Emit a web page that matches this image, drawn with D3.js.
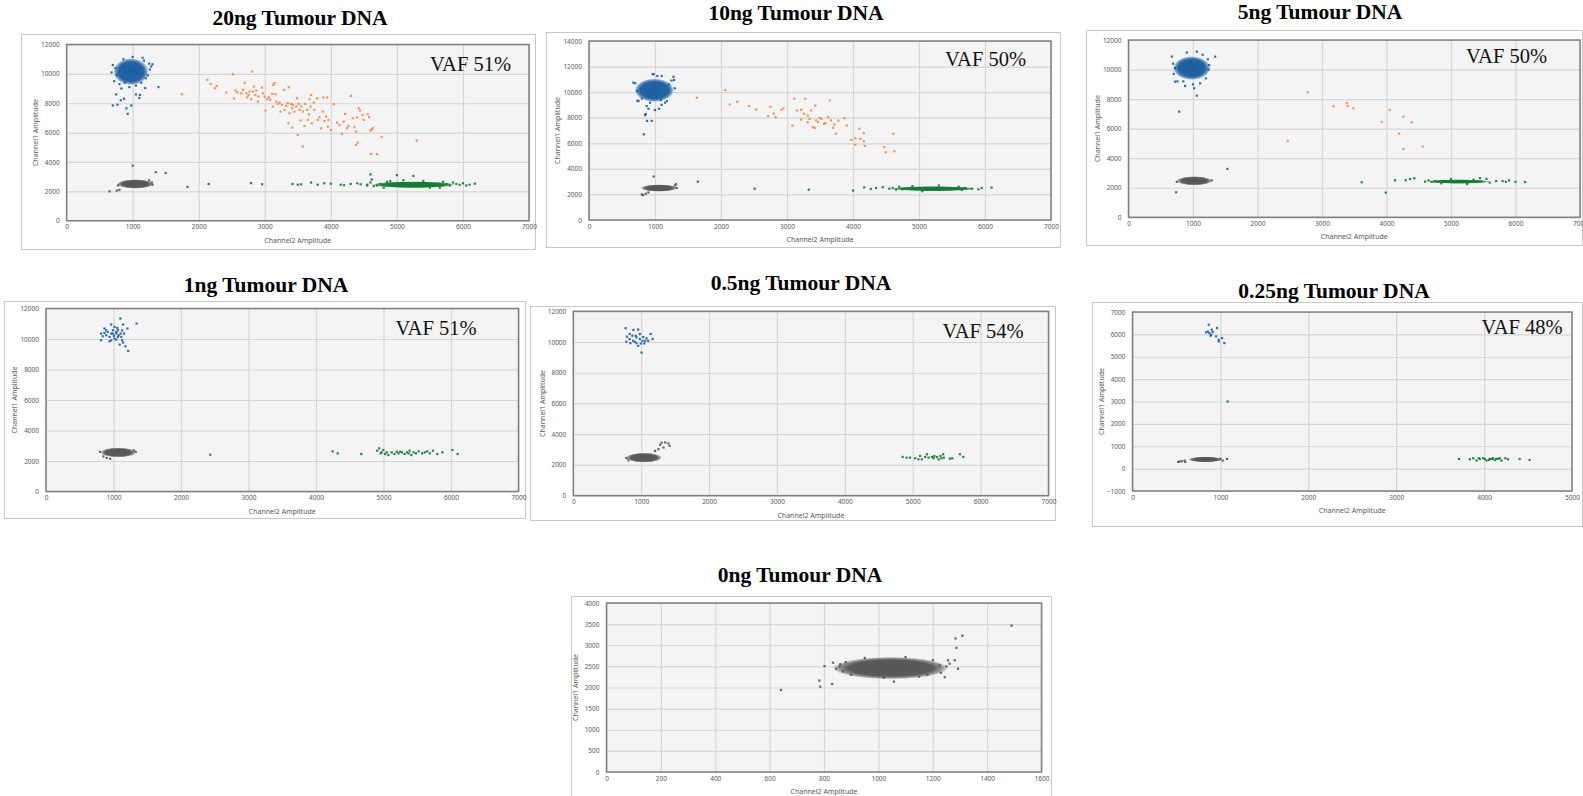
<!DOCTYPE html>
<html>
<head>
<meta charset="utf-8">
<script src="https://cdn.jsdelivr.net/npm/d3@7"></script>
<style>
  html, body { margin: 0; padding: 0; background: #fff; }
  svg { display: block; }
  .tick text { font-family: "Noto Sans", sans-serif; font-size: 6.5px; fill: #595959; }
</style>
</head>
<body>
<svg width="1583" height="796"></svg>
<script>
// ---- labels ----
const titles = ["20ng Tumour DNA", "10ng Tumour DNA", "5ng Tumour DNA", "1ng Tumour DNA",
  "0.5ng Tumour DNA", "0.25ng Tumour DNA", "0ng Tumour DNA"];
const vafLabels = ["VAF 51%", "VAF 50%", "VAF 50%", "VAF 51%", "VAF 54%", "VAF 48%", ""];
const xMax = [7000, 7000, 7000, 7000, 7000, 5000, 1600];
const xStep = [1000, 1000, 1000, 1000, 1000, 1000, 200];
const yMin = [0, 0, 0, 0, 0, -1000, 0];
const yMax = [12000, 14000, 12000, 12000, 12000, 7000, 4000];
const yStep = [2000, 2000, 2000, 2000, 2000, 1000, 500];

// ---- droplet data (Channel2, Channel1) ----
// dense cluster cores: [cluster, centre ch2, centre ch1, half-width ch2, half-height ch1]
const cores20 = [["gray", 1040, 2500, 240, 280], ["green", 5250, 2450, 550, 200], ["blue", 975, 10150, 230, 800]];
const blue20 = [[700,7850],[750,8600],[770,7900],[820,8200],[870,8300],[905,7650],[925,7280],[980,7840],[1050,8600],
  [1110,8570],[1190,9030],[1390,9100],[1100,8360],[720,9500],[1250,10700],[1280,10500],[1150,11100],[860,11000],
  [740,10400],[680,10100],[1200,9700],[1230,9900],[800,9300],[1050,9200],[880,9400],[1000,11150],[760,9900],
  [1260,10300],[1170,10900],[700,10600],[830,9000],[950,9100],[1130,9400],[1300,10650]];
const orange20 = [[1748,8614],[2131,9591],[2181,9318],[2242,9023],[2272,9182],[2418,8727],[2519,9977],[2534,8319],
  [2559,8864],[2584,8727],[2644,8682],[2670,8909],[2695,9386],[2720,8682],[2735,8409],[2755,8568],[2770,8796],
  [2795,8273],[2811,10159],[2821,8796],[2836,9136],[2856,8568],[2871,8864],[2897,8114],[2906,8455],[2957,9068],
  [2972,8682],[2997,8455],[3012,7501],[3037,8273],[3062,8409],[3083,8228],[3113,8636],[3128,9250],[3148,9363],
  [3163,8614],[3123,7773],[3173,8114],[3198,7955],[3224,8046],[3239,7432],[3259,7887],[3289,8909],[3299,7546],
  [3324,7819],[3349,8000],[3364,9091],[3374,7319],[3400,7955],[3415,7660],[3425,7887],[3450,7432],[3359,6637],
  [3415,6342],[3475,7773],[3490,8341],[3510,7955],[3526,7546],[3541,6819],[3551,7773],[3576,7432],[3500,5842],
  [3576,5047],[3601,6455],[3611,7955],[3641,7546],[3651,6864],[3667,7251],[3677,8273],[3692,7773],[3702,8568],
  [3712,6637],[3742,8046],[3752,7546],[3792,8341],[3803,6864],[3828,7046],[3853,6296],[3878,7432],[3888,8387],
  [3903,6796],[3928,7091],[3943,8387],[3954,6410],[3964,6864],[4004,6183],[4044,7932],[4095,6683],[4130,6523],
  [4170,5910],[4195,6751],[4216,7273],[4246,6296],[4266,6455],[4306,8500],[4331,6978],[4356,6365],[4382,6069],
  [4397,7046],[4382,5161],[4407,5320],[4422,7660],[4442,7501],[4482,7205],[4497,6864],[4558,7251],[4598,6137],
  [4608,4547],[4633,6296],[4770,5700],[4700,4530],[5300,5450],[4620,6200],[4580,7050]];
const gray20 = [[1000,3750],[1350,3300],[1500,3250],[1830,2300],[650,2000],[760,2050],[800,2100],[1290,2600],
  [1300,2450],[780,2400],[1250,2750]];
const green20 = [[2150,2500],[2790,2560],[2960,2480],[3420,2500],[3500,2450],[3550,2480],[3700,2600],[3800,2450],
  [3900,2550],[4000,2520],[4150,2450],[4200,2420],[4300,2500],[4400,2550],[4450,2480],[4550,2450],[4600,2600],
  [4600,3150],[4620,2800],[4700,2400],[4750,2500],[4850,2650],[5000,3100],[5250,3050],[5900,2500],[5950,2450],
  [6000,2550],[6050,2400],[6180,2520],[5800,2400],[5850,2600],[4650,2350],[4550,2400],[5700,2650],[5650,2250],
  [4800,2250],[4900,2700],[5100,2750],[5400,2700],[5500,2250],[5750,2500],[6100,2450]];

const cores10 = [["gray", 1060, 2500, 240, 250], ["green", 5220, 2450, 560, 170], ["blue", 990, 10150, 260, 800]];
const blue10 = [[830,6700],[880,7750],[950,7750],[850,8200],[900,8700],[1000,8600],[1060,8700],[700,10700],[750,9300],
  [1300,10300],[1280,11200],[1250,10900],[980,11400],[1100,9000],[800,9500],[1180,9300],[730,10100],[1210,10600],
  [671,10737],[965,11415],[1035,11259],[1101,11259],[1288,10946],[733,9330],[874,8913],[925,9174],[1091,9382],
  [1152,9174],[859,8288]];
const orange10 = [[1635,9560],[2066,10161],[2133,9038],[2246,9247],[2426,8907],[2534,8646],[2714,8123],[2750,8855],
  [2801,8332],[2827,8045],[2914,8620],[2945,8724],[3084,7392],[3110,9482],[3151,8567],[3215,8620],[3215,7862],
  [3256,8306],[3276,9482],[3315,8176],[3315,7653],[3341,7914],[3367,8567],[3392,7261],[3418,7209],[3429,8959],
  [3444,7784],[3470,7653],[3495,7993],[3521,7914],[3562,7522],[3582,7575],[3624,8045],[3649,9351],[3665,7784],
  [3701,7209],[3716,7470],[3742,6739],[3778,7784],[3870,7967],[3906,7392],[3973,6269],[4035,5877],[4035,6400],
  [4097,7131],[4112,6347],[4164,6791],[4164,6164],[4179,5799],[4472,5694],[4497,5302],[4611,6739],[4626,5381]];
const gray10 = [[1650,3000],[980,3400],[820,1950],[860,2050],[900,2150],[1300,2700],[1320,2800],[800,2000],[1330,2500]];
const green10 = [[2510,2450],[3330,2370],[4000,2300],[4170,2550],[4270,2430],[4350,2500],[4450,2560],[4550,2450],
  [4600,2500],[4650,2380],[4700,2600],[5700,2500],[5800,2450],[5900,2400],[5950,2500],[6100,2530],[4750,2400],
  [5650,2350],[5600,2600],[5300,2700],[4900,2650],[5050,2250]];

const cores5 = [["gray", 1020, 2470, 240, 270], ["green", 5120, 2420, 420, 130], ["blue", 980, 10100, 250, 700]];
const blue5 = [[785,7151],[1059,8234],[1018,8731],[878,8889],[672,10874],[1343,10874],[904,11145],[1059,11212],
  [723,9182],[1111,9069],[700,9700],[1250,10300],[1200,9400],[850,9200],[1230,10700],[690,10400],[760,9200],
  [1000,9000],[1240,10000],[720,10100],[1150,11000]];
const orange5 = [[2779,8460],[2469,5166],[3177,7512],[3384,7738],[3399,7535],[3487,7377],[3926,6452],[4050,7264],
  [4262,6813],[4391,6430],[4195,5663],[4262,4625],[4562,4783]];
const gray5 = [[1534,3271],[739,1692],[750,2400],[1290,2500]];
const green5 = [[3616,2369],[3988,1669],[4133,2504],[4298,2504],[4365,2594],[4432,2639],[4598,2414],[5800,2450],
  [5850,2400],[5900,2500],[6000,2400],[6150,2380],[4650,2500],[4700,2400],[4750,2450],[5600,2350],[5700,2450],
  [5550,2600],[5450,2650],[4850,2300],[5000,2600],[5250,2250],[5350,2550]];

const cores1 = [["gray", 1070, 2560, 230, 280]];
const blue1 = [[1102,11343],[1342,11014],[1142,10948],[866,10685],[966,10948],[1016,10794],[1066,10575],[916,10465],
  [891,10246],[841,10180],[941,10136],[991,10356],[1041,10356],[1076,10246],[1107,10356],[1016,10026],[966,9917],
  [1041,9961],[1116,10136],[1127,9917],[1092,9632],[1142,9763],[1177,9522],[1217,9215],[1207,10685],[816,10356],
  [891,10575],[991,10575],[1056,10729],[1066,10136],[941,9851],[1006,10202],[816,9917],[866,10399],[1157,10356],
  [1041,10465],[966,10356],[1127,10553]];
const gray1 = [[2433,2413],[800,2600],[850,2300],[900,2200],[950,2150],[1300,2700],[1330,2600]];
const green1 = [[4246,2633],[4321,2501],[4671,2457],[4907,2677],[4937,2830],[4957,2501],[4997,2721],[5022,2457],
  [5072,2391],[5122,2567],[5162,2457],[5197,2611],[5222,2501],[5272,2567],[5312,2457],[5347,2567],[5387,2677],
  [5412,2391],[5447,2567],[5482,2501],[5522,2633],[5572,2501],[5647,2633],[5732,2677],[5797,2457],[5872,2567],
  [6022,2721],[6098,2457],[4972,2567],[5047,2567],[5247,2611],[5372,2501],[5612,2567],[5687,2501]];

const cores05 = [["gray", 1040, 2470, 230, 280]];
const blue05 = [[771,10898],[886,10787],[955,10809],[831,10523],[871,10412],[781,10015],[841,9927],[906,10015],
  [930,10302],[980,10192],[995,9905],[955,9751],[1020,10081],[1030,10324],[1060,10081],[1080,10236],[1005,9309],
  [1104,10081],[1139,10523],[1169,10192],[831,10192],[881,10081],[930,9927],[1045,9905],[920,10412],[791,10346],
  [980,10523]];
const gray05 = [[1353,3464],[1279,3309],[1418,3243],[1254,3022],[1328,3133],[1204,2912],[1300,3450],[1400,3400],
  [780,2450],[810,2300]];
const green05 = [[4851,2515],[4910,2471],[4960,2471],[5035,2427],[5084,2361],[5109,2581],[5184,2515],[5209,2691],
  [5234,2471],[5284,2515],[5308,2427],[5358,2515],[5383,2361],[5408,2581],[5423,2427],[5448,2691],[5458,2471],
  [5547,2405],[5582,2427],[5696,2691],[5746,2515],[5134,2361],[5318,2581]];

const cores025 = [["gray", 830, 410, 170, 110]];
const blue025 = [[868,6433],[875,6060],[857,6134],[894,5985],[913,6104],[902,6209],[962,6283],[951,5910],
  [981,5686],[1019,5836],[981,5761],[1045,5612],[1083,3000],[838,6090],[887,5940]];
const gray025 = [[536,313],[592,358],[1076,433],[1026,358],[560,330],[520,300],[600,300],[1000,440]];
const green025 = [[3714,433],[3838,418],[3876,463],[3914,358],[3951,433],[3989,463],[4027,358],[4065,433],
  [4102,463],[4121,388],[4159,433],[4197,358],[4242,463],[4272,418],[4404,433],[4518,388],[3940,463],
  [4053,388],[4178,463],[4008,433],[4084,433],[4140,433]];

const cores0 = [["gray", 1045, 2460, 185, 230]];
const gray0 = [[642,1940],[783,2164],[786,2020],[830,2084],[802,2507],[833,2587],[1284,3162],[1309,3226],
  [1287,2938],[1490,3465],[1281,2643],[1293,2443],[1256,2643],[1244,2244],[845,2443],[857,2499],[1226,2523],
  [1262,2563],[1057,2140],[870,2380],[1230,2350],[880,2600],[900,2300],[1200,2650],[1250,2500],[1180,2300],
  [950,2700],[1100,2720],[1020,2230],[1150,2260],[860,2550]];

// ---- page layout (pixels) ----
const frames = [[21,34,535,249],[546,32,1060,247],[1086,30,1582,245],[4,301,525,518],
  [530,306,1055,520],[1092,302,1582,526],[571,596,1051,800]];
const plots = [[66.6,44.5,529,220.7],[589,41,1051,220],[1128.5,40,1580,217.3],[46,308.5,518.5,491.5],
  [573.3,311.3,1048.5,495.6],[1132.5,312,1572,491],[606.5,603,1041.5,772]];
const titlePos = [[300,25],[796,20],[1320,19],[266,292],[801,290],[1334,298],[800,581.5]];
const vafPos = [[511,71],[1026,66],[1547,63],[476.5,335],[1023.6,337.5],[1562.7,334],[0,0]];

const colors = { blue: "#1b5fa0", orange: "#f5884b", green: "#0e7a32", gray: "#555555" };

const panels = [
  { cores: cores20, pts: { gray: gray20, green: green20, orange: orange20, blue: blue20 } },
  { cores: cores10, pts: { gray: gray10, green: green10, orange: orange10, blue: blue10 } },
  { cores: cores5, pts: { gray: gray5, green: green5, orange: orange5, blue: blue5 } },
  { cores: cores1, pts: { gray: gray1, green: green1, blue: blue1 } },
  { cores: cores05, pts: { gray: gray05, green: green05, blue: blue05 } },
  { cores: cores025, pts: { gray: gray025, green: green025, blue: blue025 } },
  { cores: cores0, pts: { gray: gray0 } },
];

const svg = d3.select("svg");
svg.append("rect").attr("width", 1583).attr("height", 796).attr("fill", "#fff");

// soft-edged fill for the dense droplet clouds
const defs = svg.append("defs");
Object.entries(colors).forEach(([cls, c]) => {
  const g = defs.append("radialGradient").attr("id", "cloud-" + cls);
  g.append("stop").attr("offset", "0%").attr("stop-color", c).attr("stop-opacity", 1);
  g.append("stop").attr("offset", "72%").attr("stop-color", c).attr("stop-opacity", 0.97);
  g.append("stop").attr("offset", "88%").attr("stop-color", c).attr("stop-opacity", 0.6);
  g.append("stop").attr("offset", "100%").attr("stop-color", c).attr("stop-opacity", 0);
});

panels.forEach((p, i) => {
  const [fx0, fy0, fx1, fy1] = frames[i];
  const [px0, py0, px1, py1] = plots[i];

  svg.append("rect")
    .attr("x", fx0 + 0.5).attr("y", fy0 + 0.5)
    .attr("width", fx1 - fx0).attr("height", fy1 - fy0)
    .attr("fill", "#fff").attr("stroke", "#c8c8c8").attr("stroke-width", 1);

  const x = d3.scaleLinear().domain([0, xMax[i]]).range([px0, px1]);
  const y = d3.scaleLinear().domain([yMin[i], yMax[i]]).range([py1, py0]);
  const xTicks = d3.range(0, xMax[i] + 1, xStep[i]);
  const yTicks = d3.range(yMin[i], yMax[i] + 1, yStep[i]);

  svg.append("rect")
    .attr("x", px0).attr("y", py0).attr("width", px1 - px0).attr("height", py1 - py0)
    .attr("fill", "#f4f4f4");

  const gx = svg.append("g").attr("transform", `translate(0,${py1})`)
    .call(d3.axisBottom(x).tickValues(xTicks).tickSize(-(py1 - py0)).tickPadding(4).tickFormat(d3.format("d")));
  const gy = svg.append("g").attr("transform", `translate(${px0},0)`)
    .call(d3.axisLeft(y).tickValues(yTicks).tickSize(-(px1 - px0)).tickPadding(7).tickFormat(d3.format("d")));
  [gx, gy].forEach((g) => {
    g.select(".domain").remove();
    g.selectAll(".tick line").attr("stroke", "#d6d6d6").attr("stroke-width", 1.2);
  });

  svg.append("rect")
    .attr("x", px0).attr("y", py0).attr("width", px1 - px0).attr("height", py1 - py0)
    .attr("fill", "none").attr("stroke", "#808080").attr("stroke-width", 1.5);

  // axis titles
  svg.append("text")
    .attr("x", (px0 + px1) / 2).attr("y", py1 + 22)
    .attr("text-anchor", "middle")
    .style("font-family", "Noto Sans, sans-serif").style("font-size", "7px").attr("fill", "#595959")
    .text("Channel2 Amplitude");
  svg.append("text")
    .attr("transform", `translate(${px0 - 31},${(py0 + py1) / 2}) rotate(-90)`)
    .attr("text-anchor", "middle").attr("dy", "0.35em")
    .style("font-family", "Noto Sans, sans-serif").style("font-size", "7px").attr("fill", "#595959")
    .text("Channel1 Amplitude");

  // dense cluster cores
  svg.append("g").selectAll("ellipse")
    .data(p.cores).enter().append("ellipse")
    .attr("cx", (d) => x(d[1])).attr("cy", (d) => y(d[2]))
    .attr("rx", (d) => Math.abs(x(d[3]) - x(0)) * 1.15)
    .attr("ry", (d) => Math.abs(y(yMin[i] + d[4]) - y(yMin[i])) * 1.15)
    .attr("fill", (d) => `url(#cloud-${d[0]})`);

  // droplets
  Object.entries(p.pts).forEach(([cls, arr]) => {
    svg.append("g").selectAll("rect")
      .data(arr).enter().append("rect")
      .attr("x", (d) => x(d[0]) - 1.1).attr("y", (d) => y(d[1]) - 1.1)
      .attr("width", 2.2).attr("height", 2.2)
      .attr("fill", colors[cls]).attr("opacity", 0.9);
  });

  svg.append("text")
    .attr("x", titlePos[i][0]).attr("y", titlePos[i][1])
    .attr("text-anchor", "middle")
    .style("font-family", "Liberation Serif, Times New Roman, serif")
    .style("font-weight", "bold").style("font-size", "21.5px").attr("fill", "#000")
    .text(titles[i]);

  if (vafLabels[i]) {
    svg.append("text")
      .attr("x", vafPos[i][0]).attr("y", vafPos[i][1])
      .attr("text-anchor", "end")
      .style("font-family", "Liberation Serif, Times New Roman, serif")
      .style("font-size", "20.5px").attr("fill", "#111")
      .text(vafLabels[i]);
  }
});
</script>
</body>
</html>
